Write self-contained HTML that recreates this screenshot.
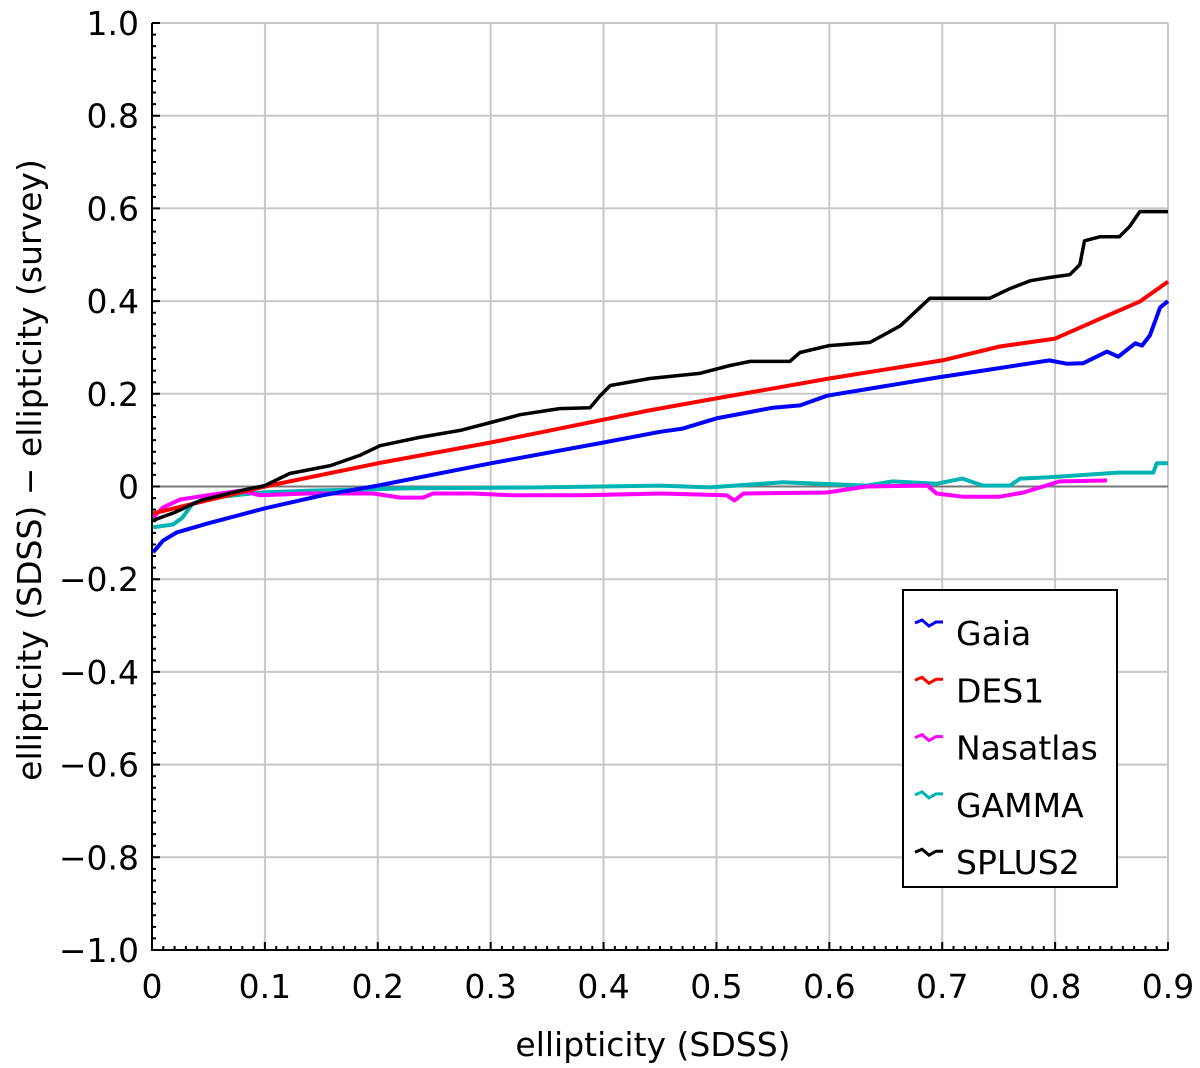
<!DOCTYPE html>
<html><head><meta charset="utf-8"><style>
html,body{margin:0;padding:0;background:#fff;}
svg{display:block;font-family:"DejaVu Sans","Liberation Sans",sans-serif;}
</style></head><body>
<svg id="chart" width="1200" height="1068" viewBox="0 0 1200 1068" xmlns="http://www.w3.org/2000/svg">
<g id="grid"></g>
<g id="zero"></g>
<g id="series"></g>
<g id="axes"></g>
<text x="653" y="1056" font-size="33" text-anchor="middle">ellipticity (SDSS)</text>
<text transform="translate(41,470) rotate(-90)" font-size="33" text-anchor="middle">ellipticity (SDSS) − ellipticity (survey)</text>
<g id="legend"></g>
</svg>
<script>
const xTicks=[0,0.1,0.2,0.3,0.4,0.5,0.6,0.7,0.8,0.9];
const xTickLabels=["0","0.1","0.2","0.3","0.4","0.5","0.6","0.7","0.8","0.9"];
const yTicks=[-1,-0.8,-0.6,-0.4,-0.2,0,0.2,0.4,0.6,0.8,1];
const yTickLabels=["−1.0","−0.8","−0.6","−0.4","−0.2","0","0.2","0.4","0.6","0.8","1.0"];
const seriesNames=["Gaia","DES1","Nasatlas","GAMMA","SPLUS2"];
const seriesColors=["#0000ff","#ff0000","#ff00ff","#00b4b4","#000000"];
const gaiaX=[0.001,0.0097,0.022,0.049,0.1,0.151,0.2,0.3,0.4,0.45,0.47,0.5,0.55,0.574,0.598,0.695,0.736,0.795,0.81,0.825,0.846,0.856,0.871,0.877,0.884,0.893,0.9];
const gaiaY=[-0.142,-0.117,-0.099,-0.08,-0.047,-0.019,0.002,0.05,0.095,0.118,0.125,0.147,0.17,0.175,0.196,0.235,0.25,0.272,0.265,0.266,0.291,0.28,0.309,0.304,0.326,0.386,0.4];
const des1X=[0.001,0.1,0.2,0.3,0.44,0.5,0.6,0.7,0.751,0.8,0.84,0.875,0.9];
const des1Y=[-0.058,0,0.05,0.095,0.164,0.19,0.233,0.272,0.302,0.319,0.362,0.399,0.442];
const nasX=[0.001,0.0097,0.025,0.049,0.078,0.096,0.137,0.196,0.22,0.24,0.249,0.284,0.32,0.382,0.45,0.509,0.516,0.524,0.598,0.633,0.687,0.695,0.718,0.751,0.772,0.795,0.804,0.846];
const nasY=[-0.067,-0.045,-0.028,-0.019,-0.009,-0.019,-0.015,-0.015,-0.024,-0.024,-0.015,-0.015,-0.019,-0.019,-0.015,-0.019,-0.03,-0.015,-0.013,0,0.002,-0.015,-0.022,-0.022,-0.013,0.004,0.011,0.013];
const gamX=[0.001,0.0186,0.027,0.036,0.054,0.096,0.137,0.226,0.344,0.45,0.494,0.559,0.633,0.656,0.695,0.718,0.736,0.76,0.769,0.795,0.856,0.887,0.89,0.9];
const gamY=[-0.088,-0.082,-0.067,-0.037,-0.024,-0.013,-0.009,-0.004,-0.002,0.002,-0.002,0.009,0.002,0.011,0.006,0.017,0.002,0.002,0.017,0.02,0.03,0.03,0.05,0.05];
const splX=[0.001,0.02,0.043,0.078,0.1,0.122,0.158,0.184,0.202,0.237,0.273,0.3,0.326,0.361,0.388,0.397,0.406,0.441,0.485,0.512,0.53,0.565,0.574,0.6,0.636,0.663,0.689,0.742,0.76,0.778,0.795,0.813,0.822,0.826,0.84,0.857,0.866,0.875,0.9];
const splY=[-0.073,-0.056,-0.03,-0.009,0.002,0.028,0.045,0.067,0.088,0.106,0.121,0.138,0.155,0.168,0.17,0.196,0.218,0.233,0.244,0.261,0.27,0.27,0.289,0.304,0.311,0.347,0.406,0.406,0.427,0.444,0.451,0.457,0.479,0.53,0.539,0.539,0.561,0.593,0.593];
const L=152,R=1168,T=23,B=950;
const xs=v=>L+(v/0.9)*(R-L);
const ys=v=>B-(v+1)/2*(B-T);
const NS="http://www.w3.org/2000/svg";
function mk(tag,attrs,parent){const e=document.createElementNS(NS,tag);for(const k in attrs)e.setAttribute(k,attrs[k]);parent.appendChild(e);return e;}
const grid=document.getElementById('grid'),axes=document.getElementById('axes');
xTicks.forEach((t,i)=>{
 const g=mk('line',{x1:xs(t),x2:xs(t),y1:T,y2:B,stroke:'#c8c8c8','stroke-width':2},grid);
 
 
 const tx=mk('text',{x:xs(t),y:998,'font-size':33,'text-anchor':'middle'},axes);
 tx.textContent=xTickLabels[i];
 
 
});
yTicks.forEach((t,i)=>{
 const g=mk('line',{x1:L,x2:R,y1:ys(t),y2:ys(t),stroke:'#c8c8c8','stroke-width':2},grid);
 
 
 const tx=mk('text',{x:139,y:ys(t)+12,'font-size':33,'text-anchor':'end'},axes);
 tx.textContent=yTickLabels[i];
 
 
});
const z=mk('line',{x1:L,x2:R,y1:ys(0),y2:ys(0),stroke:'#777','stroke-width':2},document.getElementById('zero'));
let d='';
for(let i=0;i<=90;i++){const x=xs(i/100);const len=(i%10===0)?8:4;d+=`M${x},${B}V${B-len}`;}
for(let i=0;i<=80;i++){const y=ys(-1+i*0.025);const len=(i%8===0)?8:4;d+=`M${L},${y}H${L+len}`;}
const tk=mk('path',{d:d,stroke:'#000','stroke-width':2,fill:'none'},axes);


const ax=mk('path',{d:`M${L},${T}V${B}H${R}`,stroke:'#000','stroke-width':2,fill:'none'},axes);


const data=[[gaiaX,gaiaY],[des1X,des1Y],[nasX,nasY],[gamX,gamY],[splX,splY]];
const sg=document.getElementById('series');
const order=[3,2,0,1,4];
order.forEach(i=>{
 const [X,Y]=data[i];
 const pts=X.map((x,j)=>xs(x).toFixed(1)+','+ys(Y[j]).toFixed(1)).join(' ');
 const p=mk('polyline',{points:pts,fill:'none',stroke:seriesColors[i],'stroke-width':i===4?3.5:4,'stroke-linejoin':'round'},sg);
 
 
});
const lg=document.getElementById('legend');
const box=mk('rect',{x:903,y:590,width:214,height:297,fill:'#fff',stroke:'#000','stroke-width':2},lg);


seriesNames.forEach((n,i)=>{
 const y=623+i*57.3;
 const ic=mk('path',{d:`M915,${y} L922,${y-3} L929,${y+3} L936,${y-1} L943,${y-1}`,stroke:seriesColors[i],'stroke-width':3,fill:'none'},lg);
 
 
 const t=mk('text',{x:956,y:y+22,'font-size':33},lg);
 t.textContent=n;
 
 
});
</script>
</body></html>
